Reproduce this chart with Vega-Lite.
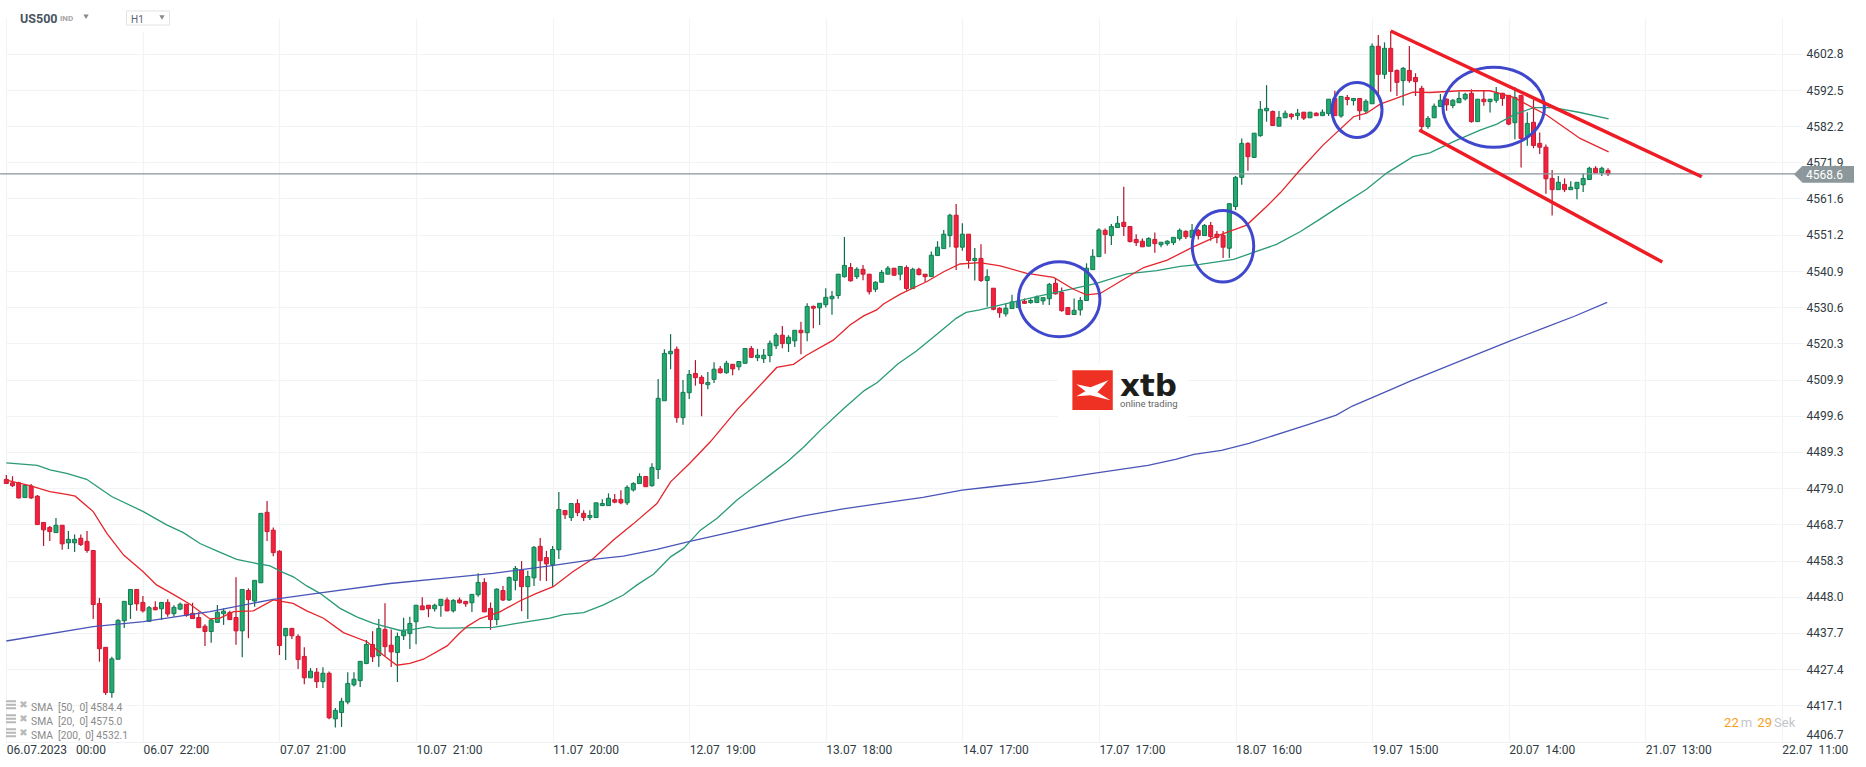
{
"$schema":"https://vega.github.io/schema/vega-lite/v6.json",
"width":1797,"height":724,
"padding":{"left":6,"top":18,"right":63,"bottom":25},
"autosize":"none",
"background":"white",
"config":{"view":{"stroke":null},"text":{"font":"Roboto"}},
"datasets":{
"candles":[
{"i":0,"o":4481.5,"h":4482.7,"l":4480.3,"c":4480.3},{"i":1,"o":4480.5,"h":4482.4,"l":4479.3,"c":4479.7},{"i":2,"o":4480.5,"h":4480.8,"l":4476.0,"c":4476.2},{"i":3,"o":4476.3,"h":4480.1,"l":4476.3,"c":4479.8},{"i":4,"o":4479.6,"h":4480.2,"l":4475.9,"c":4476.2},{"i":5,"o":4476.7,"h":4477.0,"l":4468.6,"c":4468.6},{"i":6,"o":4469.2,"h":4469.2,"l":4462.5,"c":4467.1},{"i":7,"o":4467.8,"h":4468.2,"l":4463.9,"c":4466.6},{"i":8,"o":4466.3,"h":4470.5,"l":4466.3,"c":4468.4},{"i":9,"o":4468.4,"h":4468.4,"l":4461.4,"c":4463.1},
{"i":10,"o":4463.4,"h":4466.8,"l":4461.6,"c":4464.4},{"i":11,"o":4463.4,"h":4465.8,"l":4460.8,"c":4464.4},{"i":12,"o":4464.7,"h":4465.8,"l":4462.5,"c":4462.9},{"i":13,"o":4463.8,"h":4466.8,"l":4460.6,"c":4461.2},{"i":14,"o":4461.2,"h":4461.2,"l":4441.7,"c":4445.8},{"i":15,"o":4446.1,"h":4447.7,"l":4429.5,"c":4433.2},{"i":16,"o":4433.6,"h":4433.6,"l":4420.0,"c":4420.7},{"i":17,"o":4420.7,"h":4430.9,"l":4419.2,"c":4430.3},{"i":18,"o":4430.2,"h":4441.6,"l":4430.2,"c":4441.3},{"i":19,"o":4441.2,"h":4446.7,"l":4439.1,"c":4446.7},
{"i":20,"o":4445.8,"h":4450.1,"l":4441.7,"c":4450.1},{"i":21,"o":4450.1,"h":4450.1,"l":4444.0,"c":4446.0},{"i":22,"o":4446.4,"h":4448.2,"l":4443.5,"c":4444.0},{"i":23,"o":4441.0,"h":4445.4,"l":4441.0,"c":4444.9},{"i":24,"o":4445.0,"h":4446.7,"l":4444.2,"c":4444.3},{"i":25,"o":4444.6,"h":4446.4,"l":4441.4,"c":4446.4},{"i":26,"o":4446.4,"h":4447.3,"l":4442.3,"c":4443.1},{"i":27,"o":4443.2,"h":4445.6,"l":4442.3,"c":4445.0},{"i":28,"o":4444.5,"h":4446.4,"l":4444.2,"c":4445.9},{"i":29,"o":4445.9,"h":4445.9,"l":4442.3,"c":4442.7},
{"i":30,"o":4443.3,"h":4446.3,"l":4441.8,"c":4441.8},{"i":31,"o":4442.1,"h":4443.7,"l":4439.2,"c":4439.2},{"i":32,"o":4439.6,"h":4440.2,"l":4434.0,"c":4438.1},{"i":33,"o":4438.1,"h":4441.9,"l":4434.9,"c":4441.4},{"i":34,"o":4440.7,"h":4445.7,"l":4440.5,"c":4443.6},{"i":35,"o":4443.2,"h":4444.7,"l":4440.0,"c":4443.9},{"i":36,"o":4443.5,"h":4444.0,"l":4441.4,"c":4441.5},{"i":37,"o":4442.1,"h":4453.6,"l":4434.3,"c":4438.3},{"i":38,"o":4438.3,"h":4450.1,"l":4430.8,"c":4450.1},{"i":39,"o":4449.8,"h":4450.4,"l":4436.2,"c":4447.2},
{"i":40,"o":4446.8,"h":4452.7,"l":4445.2,"c":4452.7},{"i":41,"o":4452.0,"h":4471.8,"l":4452.0,"c":4471.8},{"i":42,"o":4472.1,"h":4475.3,"l":4463.9,"c":4466.6},{"i":43,"o":4467.0,"h":4467.8,"l":4459.6,"c":4460.6},{"i":44,"o":4461.0,"h":4461.3,"l":4431.4,"c":4434.1},{"i":45,"o":4436.9,"h":4439.0,"l":4430.0,"c":4439.0},{"i":46,"o":4439.0,"h":4439.0,"l":4436.0,"c":4436.9},{"i":47,"o":4436.7,"h":4437.3,"l":4427.4,"c":4430.1},{"i":48,"o":4431.0,"h":4433.6,"l":4423.1,"c":4424.9},{"i":49,"o":4424.9,"h":4427.7,"l":4424.9,"c":4426.8},
{"i":50,"o":4426.5,"h":4427.7,"l":4422.0,"c":4423.8},{"i":51,"o":4423.8,"h":4427.9,"l":4422.0,"c":4426.2},{"i":52,"o":4426.2,"h":4426.7,"l":4413.1,"c":4413.5},{"i":53,"o":4413.2,"h":4416.3,"l":4410.7,"c":4415.6},{"i":54,"o":4415.0,"h":4419.2,"l":4410.9,"c":4418.2},{"i":55,"o":4418.0,"h":4426.5,"l":4417.4,"c":4423.3},{"i":56,"o":4422.9,"h":4426.5,"l":4422.4,"c":4424.5},{"i":57,"o":4424.1,"h":4429.6,"l":4422.3,"c":4429.6},{"i":58,"o":4429.0,"h":4435.7,"l":4428.8,"c":4434.4},{"i":59,"o":4434.4,"h":4438.2,"l":4429.4,"c":4430.9},
{"i":60,"o":4431.2,"h":4441.7,"l":4428.0,"c":4439.0},{"i":61,"o":4438.7,"h":4446.2,"l":4431.1,"c":4433.8},{"i":62,"o":4434.2,"h":4438.7,"l":4428.0,"c":4432.3},{"i":63,"o":4432.1,"h":4437.8,"l":4423.7,"c":4436.7},{"i":64,"o":4436.9,"h":4442.0,"l":4435.7,"c":4438.2},{"i":65,"o":4437.5,"h":4442.3,"l":4433.1,"c":4440.4},{"i":66,"o":4440.9,"h":4445.6,"l":4434.5,"c":4445.6},{"i":67,"o":4445.4,"h":4447.9,"l":4444.3,"c":4444.3},{"i":68,"o":4445.6,"h":4445.6,"l":4442.2,"c":4444.6},{"i":69,"o":4444.6,"h":4446.0,"l":4443.8,"c":4445.6},
{"i":70,"o":4445.5,"h":4447.3,"l":4442.3,"c":4447.3},{"i":71,"o":4447.1,"h":4447.8,"l":4443.9,"c":4444.0},{"i":72,"o":4444.0,"h":4447.3,"l":4443.5,"c":4447.0},{"i":73,"o":4447.1,"h":4447.8,"l":4446.1,"c":4446.3},{"i":74,"o":4446.7,"h":4446.7,"l":4445.2,"c":4446.0},{"i":75,"o":4446.3,"h":4448.7,"l":4443.7,"c":4448.7},{"i":76,"o":4448.6,"h":4454.7,"l":4448.0,"c":4452.1},{"i":77,"o":4452.1,"h":4453.3,"l":4443.7,"c":4443.7},{"i":78,"o":4444.7,"h":4446.4,"l":4438.6,"c":4441.5},{"i":79,"o":4441.5,"h":4450.4,"l":4439.9,"c":4450.2},
{"i":80,"o":4449.8,"h":4451.1,"l":4446.8,"c":4447.1},{"i":81,"o":4447.1,"h":4453.8,"l":4446.8,"c":4453.5},{"i":82,"o":4452.7,"h":4456.8,"l":4449.9,"c":4456.1},{"i":83,"o":4455.7,"h":4458.2,"l":4443.9,"c":4450.9},{"i":84,"o":4450.9,"h":4455.4,"l":4441.7,"c":4453.8},{"i":85,"o":4453.4,"h":4462.5,"l":4451.1,"c":4462.1},{"i":86,"o":4462.4,"h":4464.8,"l":4452.6,"c":4458.3},{"i":87,"o":4459.2,"h":4461.1,"l":4452.5,"c":4457.4},{"i":88,"o":4457.2,"h":4462.5,"l":4450.9,"c":4461.5},{"i":89,"o":4461.4,"h":4477.9,"l":4458.8,"c":4472.9},
{"i":90,"o":4472.6,"h":4472.6,"l":4470.2,"c":4471.4},{"i":91,"o":4470.6,"h":4474.6,"l":4469.6,"c":4474.6},{"i":92,"o":4474.6,"h":4475.8,"l":4471.0,"c":4472.0},{"i":93,"o":4471.8,"h":4472.7,"l":4469.6,"c":4470.6},{"i":94,"o":4470.6,"h":4472.7,"l":4469.9,"c":4471.2},{"i":95,"o":4470.6,"h":4474.8,"l":4470.6,"c":4474.8},{"i":96,"o":4474.0,"h":4475.8,"l":4474.0,"c":4474.6},{"i":97,"o":4474.0,"h":4477.5,"l":4474.0,"c":4476.1},{"i":98,"o":4475.7,"h":4477.3,"l":4474.7,"c":4475.0},{"i":99,"o":4475.8,"h":4478.4,"l":4474.4,"c":4474.8},
{"i":100,"o":4474.8,"h":4479.8,"l":4474.2,"c":4479.2},{"i":101,"o":4478.5,"h":4480.7,"l":4478.0,"c":4480.3},{"i":102,"o":4480.3,"h":4483.2,"l":4480.3,"c":4482.3},{"i":103,"o":4482.3,"h":4482.3,"l":4479.4,"c":4479.4},{"i":104,"o":4479.7,"h":4486.1,"l":4479.4,"c":4484.9},{"i":105,"o":4484.3,"h":4510.1,"l":4481.6,"c":4504.6},{"i":106,"o":4503.9,"h":4518.6,"l":4503.9,"c":4517.4},{"i":107,"o":4517.3,"h":4522.9,"l":4512.9,"c":4518.0},{"i":108,"o":4518.6,"h":4519.4,"l":4497.6,"c":4499.1},{"i":109,"o":4499.1,"h":4509.8,"l":4497.1,"c":4506.3},
{"i":110,"o":4506.2,"h":4512.7,"l":4504.4,"c":4511.4},{"i":111,"o":4511.7,"h":4515.5,"l":4508.2,"c":4510.5},{"i":112,"o":4510.6,"h":4511.2,"l":4499.5,"c":4508.8},{"i":113,"o":4508.5,"h":4512.1,"l":4507.2,"c":4509.1},{"i":114,"o":4510.0,"h":4514.9,"l":4509.0,"c":4512.9},{"i":115,"o":4513.0,"h":4513.8,"l":4511.7,"c":4511.9},{"i":116,"o":4511.9,"h":4515.3,"l":4511.6,"c":4514.6},{"i":117,"o":4514.3,"h":4514.3,"l":4511.2,"c":4513.0},{"i":118,"o":4513.6,"h":4515.1,"l":4512.6,"c":4515.1},{"i":119,"o":4514.6,"h":4518.8,"l":4514.5,"c":4518.8},
{"i":120,"o":4518.8,"h":4519.5,"l":4516.1,"c":4516.3},{"i":121,"o":4516.2,"h":4518.7,"l":4515.2,"c":4516.9},{"i":122,"o":4515.9,"h":4518.7,"l":4514.7,"c":4516.9},{"i":123,"o":4516.8,"h":4521.1,"l":4514.9,"c":4520.3},{"i":124,"o":4519.6,"h":4523.2,"l":4518.7,"c":4522.6},{"i":125,"o":4522.6,"h":4525.2,"l":4518.9,"c":4520.2},{"i":126,"o":4520.2,"h":4522.6,"l":4517.8,"c":4522.0},{"i":127,"o":4521.0,"h":4524.0,"l":4519.2,"c":4524.0},{"i":128,"o":4524.0,"h":4526.4,"l":4517.2,"c":4523.3},{"i":129,"o":4523.3,"h":4531.7,"l":4520.9,"c":4530.8},
{"i":130,"o":4530.8,"h":4531.1,"l":4524.6,"c":4530.3},{"i":131,"o":4530.4,"h":4531.7,"l":4525.5,"c":4531.7},{"i":132,"o":4531.3,"h":4536.0,"l":4530.5,"c":4533.4},{"i":133,"o":4533.0,"h":4535.2,"l":4528.4,"c":4533.7},{"i":134,"o":4533.9,"h":4540.0,"l":4533.0,"c":4540.0},{"i":135,"o":4539.3,"h":4550.6,"l":4539.0,"c":4542.5},{"i":136,"o":4541.9,"h":4543.2,"l":4537.9,"c":4538.1},{"i":137,"o":4539.3,"h":4542.0,"l":4538.6,"c":4541.4},{"i":138,"o":4541.4,"h":4542.6,"l":4538.3,"c":4540.0},{"i":139,"o":4540.0,"h":4540.0,"l":4534.2,"c":4535.0},
{"i":140,"o":4535.7,"h":4538.0,"l":4534.9,"c":4537.7},{"i":141,"o":4537.7,"h":4541.2,"l":4537.7,"c":4540.5},{"i":142,"o":4540.0,"h":4542.3,"l":4540.0,"c":4541.7},{"i":143,"o":4541.7,"h":4541.7,"l":4539.6,"c":4539.7},{"i":144,"o":4540.0,"h":4542.2,"l":4538.3,"c":4542.2},{"i":145,"o":4541.9,"h":4542.5,"l":4535.3,"c":4535.9},{"i":146,"o":4535.9,"h":4541.8,"l":4535.9,"c":4541.4},{"i":147,"o":4541.4,"h":4541.8,"l":4539.6,"c":4539.9},{"i":148,"o":4540.0,"h":4540.0,"l":4537.8,"c":4539.3},{"i":149,"o":4539.3,"h":4546.5,"l":4539.3,"c":4545.4},
{"i":150,"o":4545.3,"h":4549.4,"l":4545.3,"c":4547.7},{"i":151,"o":4547.3,"h":4552.6,"l":4547.3,"c":4551.4},{"i":152,"o":4551.0,"h":4557.2,"l":4547.7,"c":4556.8},{"i":153,"o":4556.8,"h":4560.0,"l":4541.2,"c":4547.7},{"i":154,"o":4547.7,"h":4554.5,"l":4546.7,"c":4551.4},{"i":155,"o":4551.4,"h":4551.4,"l":4541.6,"c":4543.9},{"i":156,"o":4543.9,"h":4547.5,"l":4538.2,"c":4544.5},{"i":157,"o":4544.5,"h":4548.5,"l":4537.8,"c":4538.2},{"i":158,"o":4538.2,"h":4541.4,"l":4530.7,"c":4539.3},{"i":159,"o":4536.0,"h":4536.0,"l":4529.7,"c":4530.0},
{"i":160,"o":4530.3,"h":4530.6,"l":4527.6,"c":4529.0},{"i":161,"o":4528.7,"h":4531.7,"l":4527.9,"c":4530.3},{"i":162,"o":4530.2,"h":4534.1,"l":4530.2,"c":4532.1},{"i":163,"o":4530.5,"h":4533.1,"l":4530.5,"c":4532.3},{"i":164,"o":4532.3,"h":4533.1,"l":4531.5,"c":4531.7},{"i":165,"o":4531.9,"h":4533.1,"l":4531.6,"c":4532.5},{"i":166,"o":4531.9,"h":4533.9,"l":4531.9,"c":4533.5},{"i":167,"o":4532.4,"h":4533.3,"l":4531.3,"c":4533.3},{"i":168,"o":4533.0,"h":4537.5,"l":4531.2,"c":4537.1},{"i":169,"o":4537.4,"h":4538.8,"l":4534.2,"c":4534.4},
{"i":170,"o":4534.8,"h":4536.2,"l":4529.3,"c":4529.6},{"i":171,"o":4530.5,"h":4530.5,"l":4528.5,"c":4528.5},{"i":172,"o":4528.5,"h":4533.1,"l":4528.5,"c":4529.7},{"i":173,"o":4529.8,"h":4533.5,"l":4528.2,"c":4532.5},{"i":174,"o":4532.5,"h":4543.1,"l":4532.5,"c":4541.7},{"i":175,"o":4541.3,"h":4547.1,"l":4541.2,"c":4545.1},{"i":176,"o":4545.0,"h":4553.1,"l":4545.0,"c":4552.6},{"i":177,"o":4552.5,"h":4553.0,"l":4545.8,"c":4551.3},{"i":178,"o":4551.0,"h":4554.3,"l":4548.3,"c":4553.6},{"i":179,"o":4553.3,"h":4556.6,"l":4553.2,"c":4554.5},
{"i":180,"o":4554.8,"h":4564.9,"l":4550.9,"c":4553.6},{"i":181,"o":4553.6,"h":4553.6,"l":4549.0,"c":4549.3},{"i":182,"o":4549.9,"h":4551.4,"l":4548.0,"c":4549.0},{"i":183,"o":4549.4,"h":4550.2,"l":4547.8,"c":4547.8},{"i":184,"o":4548.0,"h":4550.5,"l":4547.9,"c":4550.2},{"i":185,"o":4549.9,"h":4551.9,"l":4546.1,"c":4548.7},{"i":186,"o":4548.4,"h":4549.1,"l":4547.7,"c":4549.1},{"i":187,"o":4548.7,"h":4549.7,"l":4548.1,"c":4549.4},{"i":188,"o":4549.0,"h":4550.5,"l":4548.3,"c":4550.5},{"i":189,"o":4550.2,"h":4553.0,"l":4549.6,"c":4552.5},
{"i":190,"o":4552.2,"h":4552.5,"l":4550.0,"c":4550.7},{"i":191,"o":4550.5,"h":4554.3,"l":4550.5,"c":4552.5},{"i":192,"o":4552.5,"h":4552.9,"l":4549.9,"c":4551.0},{"i":193,"o":4551.0,"h":4554.3,"l":4550.9,"c":4553.9},{"i":194,"o":4553.9,"h":4554.9,"l":4549.5,"c":4550.7},{"i":195,"o":4551.4,"h":4552.3,"l":4548.8,"c":4550.5},{"i":196,"o":4551.1,"h":4552.3,"l":4544.6,"c":4547.7},{"i":197,"o":4547.4,"h":4560.1,"l":4544.6,"c":4560.1},{"i":198,"o":4559.3,"h":4568.0,"l":4558.3,"c":4567.6},{"i":199,"o":4567.6,"h":4578.7,"l":4565.5,"c":4577.3},
{"i":200,"o":4577.3,"h":4577.6,"l":4569.5,"c":4573.5},{"i":201,"o":4573.3,"h":4580.2,"l":4573.3,"c":4580.2},{"i":202,"o":4579.5,"h":4589.4,"l":4579.2,"c":4587.0},{"i":203,"o":4586.6,"h":4593.9,"l":4583.5,"c":4587.3},{"i":204,"o":4586.4,"h":4586.7,"l":4582.3,"c":4582.4},{"i":205,"o":4582.2,"h":4586.5,"l":4582.2,"c":4584.7},{"i":206,"o":4584.6,"h":4586.7,"l":4584.6,"c":4585.9},{"i":207,"o":4585.6,"h":4585.9,"l":4584.1,"c":4584.9},{"i":208,"o":4585.2,"h":4587.1,"l":4584.0,"c":4585.9},{"i":209,"o":4586.2,"h":4586.2,"l":4584.0,"c":4584.5},
{"i":210,"o":4584.6,"h":4586.2,"l":4584.6,"c":4586.2},{"i":211,"o":4585.9,"h":4586.2,"l":4585.2,"c":4585.2},{"i":212,"o":4585.2,"h":4587.0,"l":4585.2,"c":4586.2},{"i":213,"o":4585.8,"h":4589.9,"l":4585.1,"c":4589.9},{"i":214,"o":4590.1,"h":4592.3,"l":4585.2,"c":4585.2},{"i":215,"o":4585.1,"h":4590.7,"l":4584.6,"c":4590.7},{"i":216,"o":4590.4,"h":4591.1,"l":4588.2,"c":4589.8},{"i":217,"o":4589.5,"h":4590.1,"l":4588.1,"c":4590.1},{"i":218,"o":4590.1,"h":4590.1,"l":4584.0,"c":4586.6},{"i":219,"o":4586.5,"h":4589.9,"l":4585.9,"c":4589.3},
{"i":220,"o":4588.6,"h":4605.8,"l":4588.6,"c":4605.0},{"i":221,"o":4605.0,"h":4608.2,"l":4591.4,"c":4597.0},{"i":222,"o":4597.0,"h":4606.1,"l":4595.7,"c":4604.4},{"i":223,"o":4604.4,"h":4609.3,"l":4592.0,"c":4597.8},{"i":224,"o":4598.1,"h":4598.4,"l":4590.8,"c":4594.7},{"i":225,"o":4595.2,"h":4599.1,"l":4588.1,"c":4598.7},{"i":226,"o":4598.1,"h":4605.1,"l":4594.6,"c":4595.2},{"i":227,"o":4596.1,"h":4597.3,"l":4590.8,"c":4594.9},{"i":228,"o":4593.0,"h":4593.7,"l":4581.1,"c":4582.1},{"i":229,"o":4582.1,"h":4585.1,"l":4581.5,"c":4584.4},
{"i":230,"o":4584.6,"h":4588.7,"l":4584.6,"c":4587.9},{"i":231,"o":4587.8,"h":4591.4,"l":4587.8,"c":4589.6},{"i":232,"o":4589.9,"h":4590.1,"l":4586.6,"c":4588.3},{"i":233,"o":4588.1,"h":4589.9,"l":4587.3,"c":4589.6},{"i":234,"o":4588.9,"h":4592.0,"l":4588.9,"c":4590.1},{"i":235,"o":4590.0,"h":4591.7,"l":4589.5,"c":4591.3},{"i":236,"o":4591.6,"h":4592.7,"l":4583.2,"c":4583.5},{"i":237,"o":4583.5,"h":4589.9,"l":4583.5,"c":4589.9},{"i":238,"o":4589.9,"h":4592.3,"l":4588.0,"c":4589.2},{"i":239,"o":4589.2,"h":4589.9,"l":4586.1,"c":4589.9},
{"i":240,"o":4589.6,"h":4593.4,"l":4588.9,"c":4591.6},{"i":241,"o":4591.6,"h":4591.6,"l":4588.0,"c":4590.1},{"i":242,"o":4591.0,"h":4591.0,"l":4582.5,"c":4582.8},{"i":243,"o":4583.2,"h":4593.4,"l":4578.5,"c":4590.4},{"i":244,"o":4591.0,"h":4591.0,"l":4570.4,"c":4578.7},{"i":245,"o":4579.2,"h":4586.2,"l":4576.6,"c":4583.0},{"i":246,"o":4583.3,"h":4589.7,"l":4575.9,"c":4576.7},{"i":247,"o":4577.3,"h":4580.4,"l":4574.3,"c":4576.2},{"i":248,"o":4576.2,"h":4577.0,"l":4562.9,"c":4567.2},{"i":249,"o":4567.3,"h":4569.7,"l":4556.7,"c":4564.1},
{"i":250,"o":4564.1,"h":4568.0,"l":4564.1,"c":4566.2},{"i":251,"o":4565.6,"h":4567.3,"l":4563.4,"c":4564.1},{"i":252,"o":4564.1,"h":4566.5,"l":4564.1,"c":4564.8},{"i":253,"o":4564.4,"h":4566.2,"l":4561.4,"c":4566.2},{"i":254,"o":4565.5,"h":4568.8,"l":4563.4,"c":4567.3},{"i":255,"o":4567.0,"h":4570.6,"l":4567.0,"c":4570.2},{"i":256,"o":4570.2,"h":4570.8,"l":4568.9,"c":4568.9},{"i":257,"o":4568.9,"h":4570.6,"l":4568.0,"c":4570.2},{"i":258,"o":4569.6,"h":4570.2,"l":4568.0,"c":4568.6}
],
"sma":[
{"s":"50","i":0,"v":4486.2},{"s":"50","i":5,"v":4485.5},{"s":"50","i":7.04,"v":4484.2},{"s":"50","i":9.72,"v":4483.2},{"s":"50","i":12.94,"v":4481.5},{"s":"50","i":15.09,"v":4478.9},{"s":"50","i":16.97,"v":4476.6},{"s":"50","i":22.07,"v":4472.3},{"s":"50","i":25.83,"v":4468.5},{"s":"50","i":28.52,"v":4466.3},{"s":"50","i":31.2,"v":4463.2},{"s":"50","i":33.89,"v":4461.1},{"s":"50","i":37.11,"v":4458.7},{"s":"50","i":40.33,"v":4457.5},{"s":"50","i":42.48,"v":4456.8},{"s":"50","i":44.63,"v":4454.9},{"s":"50","i":46.24,"v":4453.7},{"s":"50","i":48.39,"v":4451.1},{"s":"50","i":50.54,"v":4449.0},{"s":"50","i":53.76,"v":4444.7},{"s":"50","i":56.44,"v":4442.3},{"s":"50","i":59.13,"v":4440.4},{"s":"50","i":63.43,"v":4438.4},{"s":"50","i":65.57,"v":4438.7},{"s":"50","i":68,"v":4439.5},{"s":"50","i":69.3,"v":4439.1},{"s":"50","i":71.5,"v":4439.1},{"s":"50","i":78.4,"v":4439.3},{"s":"50","i":82.2,"v":4440.4},{"s":"50","i":87.6,"v":4441.9},{"s":"50","i":89.7,"v":4442.9},{"s":"50","i":93,"v":4443.5},{"s":"50","i":96.2,"v":4445.7},{"s":"50","i":99.4,"v":4448.5},{"s":"50","i":101.6,"v":4451.4},{"s":"50","i":104.3,"v":4454.5},{"s":"50","i":107,"v":4459.4},{"s":"50","i":109.1,"v":4461.8},{"s":"50","i":111.8,"v":4467.0},{"s":"50","i":114.5,"v":4470.4},{"s":"50","i":117.7,"v":4475.6},{"s":"50","i":122.6,"v":4482.2},{"s":"50","i":125.8,"v":4486.5},{"s":"50","i":128.5,"v":4490.8},{"s":"50","i":131.2,"v":4495.6},{"s":"50","i":134.9,"v":4501.7},{"s":"50","i":138.2,"v":4506.8},{"s":"50","i":140.3,"v":4509.1},{"s":"50","i":143.6,"v":4514.4},{"s":"50","i":146.6,"v":4518.1},{"s":"50","i":149.8,"v":4522.7},{"s":"50","i":153,"v":4527.4},{"s":"50","i":154.6,"v":4529.1},{"s":"50","i":156.8,"v":4529.8},{"s":"50","i":161.6,"v":4531.8},{"s":"50","i":166.5,"v":4533.8},{"s":"50","i":172.4,"v":4536.1},{"s":"50","i":175.6,"v":4537.4},{"s":"50","i":180.5,"v":4540.1},{"s":"50","i":185.3,"v":4541.0},{"s":"50","i":189.1,"v":4542.2},{"s":"50","i":192.3,"v":4542.8},{"s":"50","i":197.7,"v":4544.2},{"s":"50","i":200.9,"v":4546.2},{"s":"50","i":204.6,"v":4548.5},{"s":"50","i":208.4,"v":4552.1},{"s":"50","i":211.6,"v":4555.7},{"s":"50","i":214.8,"v":4559.4},{"s":"50","i":219.1,"v":4564.2},{"s":"50","i":222.4,"v":4568.9},{"s":"50","i":226.6,"v":4573.5},{"s":"50","i":229.3,"v":4574.6},{"s":"50","i":233.1,"v":4577.8},{"s":"50","i":237.4,"v":4581.1},{"s":"50","i":240.1,"v":4582.8},{"s":"50","i":242.8,"v":4585.4},{"s":"50","i":246,"v":4587.5},{"s":"50","i":249.2,"v":4587.5},{"s":"50","i":253.5,"v":4586.1},{"s":"50","i":258.1,"v":4584.3},
{"s":"20","i":0,"v":4481.3},{"s":"20","i":3.8,"v":4479.7},{"s":"20","i":7,"v":4478.0},{"s":"20","i":9.7,"v":4477.2},{"s":"20","i":11.1,"v":4476.7},{"s":"20","i":14,"v":4472.3},{"s":"20","i":16.2,"v":4466.1},{"s":"20","i":18.9,"v":4459.9},{"s":"20","i":22,"v":4455.2},{"s":"20","i":24.2,"v":4451.4},{"s":"20","i":26.9,"v":4448.7},{"s":"20","i":29.6,"v":4445.9},{"s":"20","i":32.8,"v":4441.7},{"s":"20","i":34.4,"v":4441.9},{"s":"20","i":36.6,"v":4443.8},{"s":"20","i":39.8,"v":4444.0},{"s":"20","i":43,"v":4447.1},{"s":"20","i":46.2,"v":4446.1},{"s":"20","i":48.4,"v":4444.0},{"s":"20","i":51.1,"v":4441.9},{"s":"20","i":54.3,"v":4437.8},{"s":"20","i":58.1,"v":4435.2},{"s":"20","i":60.7,"v":4431.4},{"s":"20","i":62.9,"v":4428.5},{"s":"20","i":65,"v":4429.0},{"s":"20","i":67.2,"v":4430.2},{"s":"20","i":71,"v":4434.0},{"s":"20","i":73,"v":4437.6},{"s":"20","i":74.2,"v":4439.5},{"s":"20","i":76.3,"v":4441.8},{"s":"20","i":79.5,"v":4443.7},{"s":"20","i":82.7,"v":4446.8},{"s":"20","i":85.4,"v":4449.0},{"s":"20","i":88.1,"v":4450.9},{"s":"20","i":91.3,"v":4455.2},{"s":"20","i":94.6,"v":4459.0},{"s":"20","i":97.8,"v":4464.2},{"s":"20","i":101,"v":4468.8},{"s":"20","i":104.8,"v":4474.6},{"s":"20","i":107,"v":4480.8},{"s":"20","i":110.1,"v":4486.1},{"s":"20","i":113.4,"v":4492.2},{"s":"20","i":117.7,"v":4501.3},{"s":"20","i":120.3,"v":4506.2},{"s":"20","i":124.1,"v":4513.4},{"s":"20","i":126.8,"v":4514.3},{"s":"20","i":128.9,"v":4516.9},{"s":"20","i":133.2,"v":4521.2},{"s":"20","i":135.9,"v":4525.5},{"s":"20","i":138.1,"v":4528.1},{"s":"20","i":140.2,"v":4529.8},{"s":"20","i":141.3,"v":4531.5},{"s":"20","i":144,"v":4534.3},{"s":"20","i":148.3,"v":4537.9},{"s":"20","i":151,"v":4540.7},{"s":"20","i":153.6,"v":4542.9},{"s":"20","i":156.8,"v":4543.3},{"s":"20","i":160.1,"v":4542.4},{"s":"20","i":164.4,"v":4540.2},{"s":"20","i":168.7,"v":4539.1},{"s":"20","i":171.9,"v":4535.7},{"s":"20","i":174,"v":4534.1},{"s":"20","i":176.2,"v":4534.5},{"s":"20","i":179.4,"v":4537.9},{"s":"20","i":183.2,"v":4541.9},{"s":"20","i":187,"v":4544.0},{"s":"20","i":191.2,"v":4547.8},{"s":"20","i":195.5,"v":4551.2},{"s":"20","i":199.8,"v":4554.0},{"s":"20","i":203,"v":4559.3},{"s":"20","i":205.2,"v":4563.2},{"s":"20","i":208.4,"v":4569.7},{"s":"20","i":212.1,"v":4576.8},{"s":"20","i":217,"v":4584.9},{"s":"20","i":219.1,"v":4585.9},{"s":"20","i":221.3,"v":4588.5},{"s":"20","i":226.6,"v":4591.9},{"s":"20","i":229.3,"v":4591.8},{"s":"20","i":234.2,"v":4592.3},{"s":"20","i":239,"v":4592.3},{"s":"20","i":242.8,"v":4590.4},{"s":"20","i":248.1,"v":4585.4},{"s":"20","i":253.5,"v":4578.7},{"s":"20","i":258.1,"v":4574.9},
{"s":"200","i":0,"v":4435.4},{"s":"200","i":14,"v":4439.5},{"s":"200","i":22.1,"v":4440.9},{"s":"200","i":32.8,"v":4443.8},{"s":"200","i":43,"v":4447.3},{"s":"200","i":50,"v":4449.0},{"s":"200","i":61.8,"v":4451.8},{"s":"200","i":71.5,"v":4453.5},{"s":"200","i":78.4,"v":4454.7},{"s":"200","i":87.6,"v":4456.8},{"s":"200","i":95.6,"v":4458.9},{"s":"200","i":99.4,"v":4459.6},{"s":"200","i":104.8,"v":4461.5},{"s":"200","i":110.1,"v":4463.8},{"s":"200","i":117.1,"v":4466.6},{"s":"200","i":125.2,"v":4469.9},{"s":"200","i":128.4,"v":4471.1},{"s":"200","i":134.8,"v":4473.1},{"s":"200","i":143.96,"v":4475.4},{"s":"200","i":147.66,"v":4476.35},{"s":"200","i":153.95,"v":4478.44},{"s":"200","i":158.75,"v":4479.39},{"s":"200","i":165.41,"v":4480.73},{"s":"200","i":170.59,"v":4481.96},{"s":"200","i":175.91,"v":4483.39},{"s":"200","i":183.9,"v":4485.48},{"s":"200","i":188.34,"v":4487.19},{"s":"200","i":191.3,"v":4488.62},{"s":"200","i":195.74,"v":4489.76},{"s":"200","i":200.17,"v":4491.75},{"s":"200","i":209.79,"v":4497.17},{"s":"200","i":214.23,"v":4499.83},{"s":"200","i":216.82,"v":4502.4},{"s":"200","i":223.1,"v":4507.15},{"s":"200","i":226.06,"v":4509.43},{"s":"200","i":234.94,"v":4515.8},{"s":"200","i":241.96,"v":4520.75},{"s":"200","i":247.51,"v":4524.55},{"s":"200","i":252.69,"v":4528.07},{"s":"200","i":257.86,"v":4531.96}
],
"circles":[
{"s":"a","k":0,"i":176.16,"v":4532.83},{"s":"a","k":1,"i":175.28,"v":4538.18},{"s":"a","k":2,"i":172.88,"v":4542.09},{"s":"a","k":3,"i":169.6,"v":4543.52},{"s":"a","k":4,"i":166.32,"v":4542.09},{"s":"a","k":5,"i":163.92,"v":4538.18},{"s":"a","k":6,"i":163.04,"v":4532.83},{"s":"a","k":7,"i":163.92,"v":4527.48},{"s":"a","k":8,"i":166.32,"v":4523.57},{"s":"a","k":9,"i":169.6,"v":4522.14},{"s":"a","k":10,"i":172.88,"v":4523.57},{"s":"a","k":11,"i":175.28,"v":4527.48},
{"s":"b","k":0,"i":200.93,"v":4547.95},{"s":"b","k":1,"i":200.27,"v":4553.04},{"s":"b","k":2,"i":198.45,"v":4556.77},{"s":"b","k":3,"i":195.98,"v":4558.13},{"s":"b","k":4,"i":193.51,"v":4556.77},{"s":"b","k":5,"i":191.69,"v":4553.04},{"s":"b","k":6,"i":191.03,"v":4547.95},{"s":"b","k":7,"i":191.69,"v":4542.86},{"s":"b","k":8,"i":193.51,"v":4539.13},{"s":"b","k":9,"i":195.98,"v":4537.77},{"s":"b","k":10,"i":198.45,"v":4539.13},{"s":"b","k":11,"i":200.27,"v":4542.86},
{"s":"c","k":0,"i":221.6,"v":4586.81},{"s":"c","k":1,"i":221.06,"v":4590.73},{"s":"c","k":2,"i":219.58,"v":4593.6},{"s":"c","k":3,"i":217.57,"v":4594.65},{"s":"c","k":4,"i":215.56,"v":4593.6},{"s":"c","k":5,"i":214.08,"v":4590.73},{"s":"c","k":6,"i":213.54,"v":4586.81},{"s":"c","k":7,"i":214.08,"v":4582.89},{"s":"c","k":8,"i":215.56,"v":4580.02},{"s":"c","k":9,"i":217.57,"v":4578.97},{"s":"c","k":10,"i":219.58,"v":4580.02},{"s":"c","k":11,"i":221.06,"v":4582.89},
{"s":"d","k":0,"i":247.76,"v":4587.58},{"s":"d","k":1,"i":246.66,"v":4593.29},{"s":"d","k":2,"i":243.67,"v":4597.46},{"s":"d","k":3,"i":239.59,"v":4598.99},{"s":"d","k":4,"i":235.51,"v":4597.46},{"s":"d","k":5,"i":232.52,"v":4593.29},{"s":"d","k":6,"i":231.42,"v":4587.58},{"s":"d","k":7,"i":232.52,"v":4581.87},{"s":"d","k":8,"i":235.51,"v":4577.7},{"s":"d","k":9,"i":239.59,"v":4576.17},{"s":"d","k":10,"i":243.67,"v":4577.7},{"s":"d","k":11,"i":246.66,"v":4581.87}
],
"channel":[
{"s":"upper","i":223.0,"v":4609.34},{"s":"upper","i":273.1,"v":4567.79},
{"s":"lower","i":227.6,"v":4581.11},{"s":"lower","i":266.75,"v":4543.47}
]
},
"encoding":{
"x":{"field":"i","type":"quantitative","title":null,
"scale":{"domain":[-0.05,289.41],"nice":false,"zero":false,"padding":0},
"axis":{"values":[0,22,44,66,88,110,132,154,176,198,220,242,264,286],"grid":true,"gridColor":"#f2f3f4","gridWidth":1.2,"domain":false,"ticks":false,"labelAlign":"left","labelBaseline":"top","labelPadding":2,"labelFont":"Roboto","labelFontSize":12,"labelColor":"#2f3a42","labelOverlap":false,"labelBound":false,"labelFlush":false,
"labelExpr":"['06.07.2023\u00a0\u00a0\u00a000:00','06.07\u00a0\u00a022:00','07.07\u00a0\u00a021:00','10.07\u00a0\u00a021:00','11.07\u00a0\u00a020:00','12.07\u00a0\u00a019:00','13.07\u00a0\u00a018:00','14.07\u00a0\u00a017:00','17.07\u00a0\u00a017:00','18.07\u00a0\u00a016:00','19.07\u00a0\u00a015:00','20.07\u00a0\u00a014:00','21.07\u00a0\u00a013:00','22.07\u00a0\u00a011:00'][round(datum.value/22)]"}},
"y":{"field":"v","type":"quantitative","title":null,
"scale":{"domain":[4406.6,4613.05],"nice":false,"zero":false},
"axis":{"orient":"right","values":[4602.8,4592.5,4582.2,4571.9,4561.6,4551.2,4540.9,4530.6,4520.3,4509.9,4499.6,4489.3,4479.0,4468.7,4458.3,4448.0,4437.7,4427.4,4417.1,4406.7],"format":".1f","grid":true,"gridColor":"#f2f3f4","gridWidth":1.2,"domain":false,"ticks":false,"labelAlign":"left","labelBaseline":{"condition":{"test":"datum.value<4407","value":"bottom"},"value":"middle"},"labelPadding":3,"labelFont":"Roboto","labelFontSize":12,"labelColor":"#2f3a42","labelOverlap":false,"labelBound":false,"labelFlush":false}}
},
"layer":[
{"data":{"values":[{"i":169.4,"i2":190.4,"v":4514.66,"v2":4499.27},{"i":15.09,"i2":27.17,"v":4613.05,"v2":4609.06}]},
 "mark":{"type":"rect","color":"#ffffff"},
 "encoding":{"x2":{"field":"i2"},"y2":{"field":"v2"}}},
{"data":{"name":"candles"},
 "mark":{"type":"rule","strokeWidth":1.2},
 "encoding":{"y":{"field":"l","type":"quantitative","title":null,"scale":{"domain":[4406.6,4613.05],"nice":false,"zero":false},
 "axis":{"orient":"right","values":[4602.8,4592.5,4582.2,4571.9,4561.6,4551.2,4540.9,4530.6,4520.3,4509.9,4499.6,4489.3,4479.0,4468.7,4458.3,4448.0,4437.7,4427.4,4417.1,4406.7],"format":".1f","grid":true,"gridColor":"#f2f3f4","gridWidth":1.2,"domain":false,"ticks":false,"labelAlign":"left","labelBaseline":{"condition":{"test":"datum.value<4407","value":"bottom"},"value":"middle"},"labelPadding":3,"labelFont":"Roboto","labelFontSize":12,"labelColor":"#2f3a42","labelOverlap":false,"labelBound":false,"labelFlush":false}},"y2":{"field":"h"},
 "color":{"condition":{"test":"datum.c>=datum.o","value":"#0f6b49"},"value":"#b3162c"}}},
{"data":{"name":"candles"},
 "mark":{"type":"bar","size":4,"strokeWidth":1},
 "encoding":{"y":{"field":"o","type":"quantitative","title":null,"scale":{"domain":[4406.6,4613.05],"nice":false,"zero":false},
 "axis":{"orient":"right","values":[4602.8,4592.5,4582.2,4571.9,4561.6,4551.2,4540.9,4530.6,4520.3,4509.9,4499.6,4489.3,4479.0,4468.7,4458.3,4448.0,4437.7,4427.4,4417.1,4406.7],"format":".1f","grid":true,"gridColor":"#f2f3f4","gridWidth":1.2,"domain":false,"ticks":false,"labelAlign":"left","labelBaseline":{"condition":{"test":"datum.value<4407","value":"bottom"},"value":"middle"},"labelPadding":3,"labelFont":"Roboto","labelFontSize":12,"labelColor":"#2f3a42","labelOverlap":false,"labelBound":false,"labelFlush":false}},"y2":{"field":"c"},
 "fill":{"condition":{"test":"datum.c>=datum.o","value":"#22ab6e"},"value":"#f4203e"},
 "stroke":{"condition":{"test":"datum.c>=datum.o","value":"#137a52"},"value":"#c81c33"}}},
{"data":{"values":[{"i":-1,"v":4568.6},{"i":288.2,"v":4568.6}]},
 "mark":{"type":"line","color":"#87949a","strokeWidth":1.3}},
{"data":{"name":"sma"},
 "mark":{"type":"line","strokeWidth":1.3},
 "encoding":{"color":{"field":"s","type":"nominal","legend":null,"scale":{"domain":["20","50","200"],"range":["#e5252c","#2a9a78","#4a55b8"]}}}},
{"data":{"name":"circles"},
 "mark":{"type":"line","interpolate":"cardinal-closed","color":"#3f48cc","strokeWidth":3},
 "encoding":{"detail":{"field":"s"},"order":{"field":"k"}}},
{"data":{"name":"channel"},
 "mark":{"type":"line","color":"#ee1c25","strokeWidth":3.5},
 "encoding":{"detail":{"field":"s"}}},
{"data":{"values":[{"i":289.26,"i2":297.63,"v":4570.84,"v2":4566.08}]},
 "mark":{"type":"rect","color":"#8b979b"},
 "encoding":{"x2":{"field":"i2"},"y2":{"field":"v2"}}},
{"data":{"values":[{"i":288.6,"v":4568.46}]},
 "mark":{"type":"point","shape":"M0.5,-1L-0.5,0L0.5,1Z","filled":true,"opacity":1,"size":256,"color":"#8b979b"}},
{"data":{"values":[{"i":289.9,"v":4568.4,"t":"4568.6"}]},
 "mark":{"type":"text","align":"left","baseline":"middle","fontSize":12,"color":"#ffffff"},
 "encoding":{"text":{"field":"t"}}},
{"data":{"values":[{"i":171.72,"i2":178.23,"v":4512.58,"v2":4501.26}]},
 "mark":{"type":"rect","color":"#ef3124"},
 "encoding":{"x2":{"field":"i2"},"y2":{"field":"v2"}}},
{"data":{"values":[{"i":174.95,"v":4506.88}]},
 "mark":{"type":"point","shape":"M-0.8,-0.3L-0.1,-0.15L0.8,-0.5L0.25,0.1L0.9,0.5L-0.1,0.25L-0.8,0.3L-0.35,0.05Z","filled":true,"opacity":1,"size":1600,"color":"#ffffff"}},
{"data":{"values":[{"i":179.4,"v":4505.26,"t":"xtb"}]},
 "mark":{"type":"text","align":"left","baseline":"alphabetic","font":"DejaVu Sans","fontWeight":"bold","fontSize":31,"color":"#1d1d1b"},
 "encoding":{"text":{"field":"t"}}},
{"data":{"values":[{"i":179.4,"v":4503.0,"t":"online trading"}]},
 "mark":{"type":"text","align":"left","baseline":"middle","fontSize":9.5,"color":"#666666"},
 "encoding":{"text":{"field":"t"}}},
{"data":{"values":[{"i":2.21,"v":4612.77,"t":"US500"}]},
 "mark":{"type":"text","align":"left","baseline":"middle","fontWeight":"bold","fontSize":12.5,"color":"#4a5561"},
 "encoding":{"text":{"field":"t"}}},
{"data":{"values":[{"i":8.65,"v":4612.77,"t":"IND"}]},
 "mark":{"type":"text","align":"left","baseline":"middle","fontWeight":"bold","fontSize":8,"color":"#a4a4a4"},
 "encoding":{"text":{"field":"t"}}},
{"data":{"values":[{"i":12.84,"v":4613.4},{"i":25.08,"v":4613.2}]},
 "mark":{"type":"point","shape":"triangle-down","filled":true,"opacity":1,"size":28,"color":"#8a8a8a"}},
{"data":{"values":[{"i":19.36,"i2":26.29,"v":4615.05,"v2":4611.05}]},
 "mark":{"type":"rect","fill":"none","stroke":"#e2e2e2","strokeWidth":1},
 "encoding":{"x2":{"field":"i2"},"y2":{"field":"v2"}}},
{"data":{"values":[{"i":20.09,"v":4612.48,"t":"H1"}]},
 "mark":{"type":"text","align":"left","baseline":"middle","fontSize":10,"color":"#5a6670"},
 "encoding":{"text":{"field":"t"}}},
{"data":{"values":[{"i":3.98,"v":4416.36,"t":"SMA\u00a0\u00a0[50,\u00a0\u00a00]\u00a04584.4"},{"i":3.98,"v":4412.29,"t":"SMA\u00a0\u00a0[20,\u00a0\u00a00]\u00a04575.0"},{"i":3.98,"v":4408.38,"t":"SMA\u00a0\u00a0[200,\u00a0\u00a00]\u00a04532.1"}]},
 "mark":{"type":"text","align":"left","baseline":"middle","fontSize":10.3,"color":"#8a8a8a"},
 "encoding":{"text":{"field":"t"}}},
{"data":{"values":[{"i":0.76,"v":4417.05},{"i":0.76,"v":4413.06},{"i":0.76,"v":4409.06}]},
 "mark":{"type":"point","shape":"M-1,-1H1V-0.6H-1ZM-1,-0.3H1V0.1H-1ZM-1,0.4H1V0.8H-1Z","filled":true,"opacity":1,"size":100,"color":"#b8b8b8"}},
{"data":{"values":[{"i":2.77,"v":4417.05,"t":"\u2716"},{"i":2.77,"v":4413.06,"t":"\u2716"},{"i":2.77,"v":4409.06,"t":"\u2716"}]},
 "mark":{"type":"text","align":"center","baseline":"middle","font":"DejaVu Sans","fontSize":10,"color":"#b8b8b8"},
 "encoding":{"text":{"field":"t"}}},
{"data":{"values":[{"i":276.7,"v":4412.08,"t":"22"},{"i":282.06,"v":4412.08,"t":"29"}]},
 "mark":{"type":"text","align":"left","baseline":"middle","fontSize":13,"color":"#f7a01e"},
 "encoding":{"text":{"field":"t"}}},
{"data":{"values":[{"i":279.4,"v":4412.08,"t":"m"},{"i":284.75,"v":4412.08,"t":"Sek"}]},
 "mark":{"type":"text","align":"left","baseline":"middle","fontSize":13,"color":"#c3c6c9"},
 "encoding":{"text":{"field":"t"}}}
]
}
